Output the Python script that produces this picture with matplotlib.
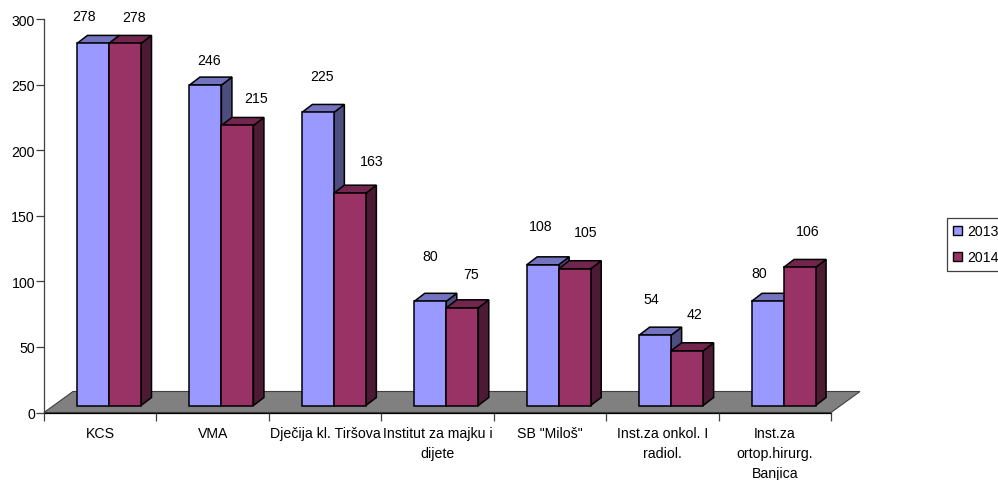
import matplotlib
matplotlib.use("Agg")
import matplotlib.pyplot as plt
from matplotlib.patches import Polygon, Patch

plt.rcParams['font.family'] = ['Liberation Sans', 'DejaVu Sans']

categories = ['KCS', 'VMA', 'Dječija kl. Tiršova', 'Institut za majku i\ndijete', 'SB "Miloš"',
              'Inst.za onkol. I\nradiol.', 'Inst.za\nortop.hirurg.\nBanjica']
v2013 = [278, 246, 225, 80, 108, 54, 80]
v2014 = [278, 215, 163, 75, 105, 42, 106]
years = ['2013', '2014']

# label offsets from the front-top centre of each bar, in pixels
off2013 = [(-9, 27), (4, 25), (4, 36), (0, 45), (-2, 39), (-4, 36), (-8, 28)]
off2014 = [(9, 26), (19, 27), (22, 32), (9, 34), (11, 37), (7, 37), (8, 36)]

W, H = 998, 481
fig = plt.figure(figsize=(W / 100, H / 100), dpi=100)
ax = fig.add_axes([44 / W, 1 - 413.5 / H, 787 / W, 393.5 / H])
ax.set_xlim(0, 7)
ax.set_ylim(0, 300)
ax.patch.set_alpha(0)

fs = 10.2
ux = 787 / 7      # px per category
uy = 393.5 / 300  # px per value unit
dx = 10.5 / ux
dy = 8 / uy
base = 7 / uy
bw = 32 / ux
lead = 33 / ux

ax.add_patch(Polygon([(0, 0), (29 / ux, 21 / uy), (7 + 29 / ux, 21 / uy), (7, 0)],
                     closed=True, fc='#808080', ec='#404040', lw=0.8, clip_on=False, zorder=1))


def bar3d(x, v, front, side, top, z):
    h = v * 0.993
    t = base + h
    ax.add_patch(Polygon([(x + bw, base), (x + bw + dx, base + dy), (x + bw + dx, t + dy), (x + bw, t)],
                         closed=True, fc=side, ec='black', lw=1.1, clip_on=False, zorder=z))
    ax.add_patch(Polygon([(x, t), (x + dx, t + dy), (x + bw + dx, t + dy), (x + bw, t)],
                         closed=True, fc=top, ec='black', lw=1.1, clip_on=False, zorder=z))
    ax.bar(x, h, bw, bottom=base, align='edge', color=front, edgecolor='black', lw=1.1,
           clip_on=False, zorder=z + 0.1)
    return x + bw / 2, t


for i in range(7):
    x0 = i + lead
    for (vals, offs, cols, z, xx) in (
            (v2013, off2013, ('#9999FF', '#4D4D80', '#7373BF'), 2 + i, x0),
            (v2014, off2014, ('#993366', '#4D1A33', '#73264D'), 2.5 + i, x0 + bw)):
        cx, ty = bar3d(xx, vals[i], *cols, z)
        ax.annotate(str(vals[i]), (cx, ty), xytext=offs[i], textcoords='offset pixels',
                    ha='center', va='center', fontsize=fs, color='black', annotation_clip=False,
                    zorder=30)

for s in ('top', 'right'):
    ax.spines[s].set_visible(False)
ax.spines['left'].set_color('#404040')
ax.spines['left'].set_linewidth(0.9)
ax.spines['bottom'].set_color('black')
ax.spines['bottom'].set_linewidth(0.9)
ax.spines['left'].set_zorder(1.5)
ax.spines['bottom'].set_zorder(1.5)

ax.set_yticks(range(0, 301, 50))
ax.tick_params(axis='y', length=5.5, width=0.9, color='#404040', labelsize=fs, pad=1)
ax.set_xticks(range(8))
ax.set_xticklabels([])
ax.tick_params(axis='x', which='major', length=5.5, width=0.9, color='#404040')
ax.set_xticks([i + 0.5 for i in range(7)], minor=True)
ax.set_xticklabels(categories, minor=True, fontsize=fs, linespacing=1.55, va='top')
ax.tick_params(axis='x', which='minor', length=0, pad=10)

handles = [Patch(fc='#9999FF', ec='black', lw=1.0), Patch(fc='#993366', ec='black', lw=1.0)]
leg = fig.legend(handles, years, loc='upper left', bbox_to_anchor=(947 / W, 1 - 219 / H),
                 fontsize=fs, frameon=True, fancybox=False, edgecolor='#404040', framealpha=1,
                 handlelength=0.62, handleheight=0.62, handletextpad=0.35, labelspacing=0.85,
                 borderpad=0.45, borderaxespad=0)
leg.get_frame().set_linewidth(0.9)

fig.savefig('out.png', dpi=100)
